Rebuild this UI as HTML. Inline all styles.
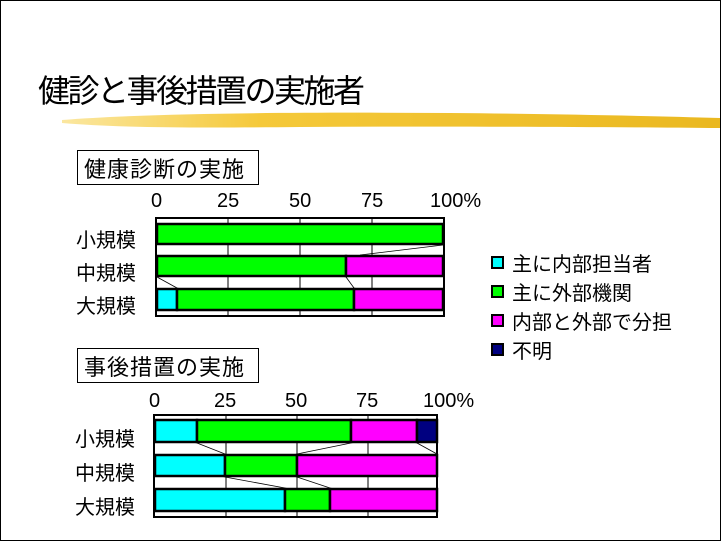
<!DOCTYPE html>
<html><head><meta charset="utf-8"><style>
html,body{margin:0;padding:0;background:#fff}
svg{display:block}
text{font-family:"Liberation Sans","Noto Sans CJK JP",sans-serif}
</style></head><body>
<svg width="722" height="542" viewBox="0 0 722 542" xmlns="http://www.w3.org/2000/svg">
<rect x="0.5" y="0.5" width="720" height="540" fill="#fff" stroke="#000"/>
<defs><linearGradient id="g" x1="0" x2="1"><stop offset="0" stop-color="#fbe7a0"/><stop offset="0.3" stop-color="#f5c93a"/><stop offset="1" stop-color="#eab820"/></linearGradient></defs>
<path d="M62,120 C150,113 300,112 450,113 C560,114 650,116 720,118 L720,128 C600,127 450,126 300,127 C200,128 120,128 62,123 Z" fill="url(#g)"/>
<text x="38" y="102" font-size="32" letter-spacing="-2.5" fill="#000">健診と事後措置の実施者</text>
<g font-size="22" fill="#000">
<rect x="77.5" y="150.5" width="181" height="34" fill="#fff" stroke="#000"/>
<text x="84" y="177" letter-spacing="1">健康診断の実施</text>
<rect x="77.5" y="348.5" width="181" height="34" fill="#fff" stroke="#000"/>
<text x="84" y="375" letter-spacing="1">事後措置の実施</text>
</g>
<g font-size="20" fill="#000">
<text x="151" y="207">0</text><text x="217" y="207">25</text><text x="289" y="207">50</text><text x="361" y="207">75</text><text x="430" y="207">100%</text>
<text x="149" y="407">0</text><text x="214" y="407">25</text><text x="285" y="407">50</text><text x="356" y="407">75</text><text x="423" y="407">100%</text>
</g>
<g font-size="20" fill="#000">
<text x="76" y="247">小規模</text><text x="76" y="280">中規模</text><text x="76" y="313">大規模</text>
<text x="75" y="446">小規模</text><text x="75" y="480">中規模</text><text x="75" y="514">大規模</text>
</g>
<!-- chart 1 -->
<g stroke="#000">
<rect x="156" y="218" width="288" height="98" fill="#fff" stroke-width="2"/>
<line x1="228" y1="218" x2="228" y2="316"/><line x1="300" y1="218" x2="300" y2="316"/><line x1="372" y1="218" x2="372" y2="316"/>
<g stroke-width="2.5">
<rect x="157" y="224" width="286" height="20" fill="#00ff00"/>
<rect x="157" y="256" width="189" height="20" fill="#00ff00"/><rect x="346" y="256" width="97" height="20" fill="#ff00ff"/>
<rect x="157" y="289" width="20" height="21" fill="#00ffff"/><rect x="177" y="289" width="177" height="21" fill="#00ff00"/><rect x="354" y="289" width="89" height="21" fill="#ff00ff"/>
</g>
<line x1="443" y1="245" x2="360" y2="255" stroke-width="0.8"/>
<line x1="157" y1="277" x2="177" y2="288" stroke-width="0.8"/>
<line x1="346" y1="277" x2="354" y2="288" stroke-width="0.8"/>
</g>
<!-- chart 2 -->
<g stroke="#000">
<rect x="154" y="415" width="283" height="102" fill="#fff" stroke-width="2"/>
<line x1="226" y1="415" x2="226" y2="517"/><line x1="297" y1="415" x2="297" y2="517"/><line x1="368" y1="415" x2="368" y2="517"/>
<g stroke-width="2.5">
<rect x="155" y="420" width="42" height="22" fill="#00ffff"/><rect x="197" y="420" width="154" height="22" fill="#00ff00"/><rect x="351" y="420" width="66" height="22" fill="#ff00ff"/><rect x="417" y="420" width="20" height="22" fill="#000080"/>
<rect x="155" y="455" width="70" height="21" fill="#00ffff"/><rect x="225" y="455" width="72" height="21" fill="#00ff00"/><rect x="297" y="455" width="140" height="21" fill="#ff00ff"/>
<rect x="155" y="489" width="130" height="22" fill="#00ffff"/><rect x="285" y="489" width="45" height="22" fill="#00ff00"/><rect x="330" y="489" width="107" height="22" fill="#ff00ff"/>
</g>
<g stroke-width="0.8"><line x1="197" y1="443" x2="225" y2="454"/><line x1="351" y1="443" x2="297" y2="454"/><line x1="417" y1="443" x2="437" y2="454"/>
<line x1="225" y1="477" x2="285" y2="488"/><line x1="297" y1="477" x2="330" y2="488"/></g>
</g>
<!-- legend -->
<g stroke="#000" stroke-width="2">
<rect x="492" y="257" width="11" height="11" fill="#00ffff"/>
<rect x="492" y="286" width="11" height="11" fill="#00ff00"/>
<rect x="492" y="315" width="11" height="11" fill="#ff00ff"/>
<rect x="492" y="344" width="11" height="11" fill="#000080"/>
</g>
<g font-size="20" fill="#000">
<text x="512" y="271">主に内部担当者</text>
<text x="512" y="300">主に外部機関</text>
<text x="512" y="329">内部と外部で分担</text>
<text x="512" y="358">不明</text>
</g>
</svg>
</body></html>
